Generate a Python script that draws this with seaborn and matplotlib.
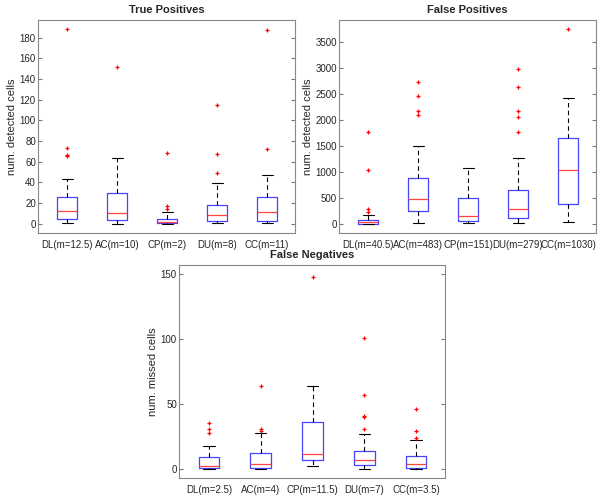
import numpy as np
import matplotlib
matplotlib.use("Agg")
import matplotlib.pyplot as plt
import seaborn as sns

methods = ["DL", "AC", "CP", "DU", "CC"]

# True Positives
tp_labels = ["DL(m=12.5)", "AC(m=10)", "CP(m=2)", "DU(m=8)", "CC(m=11)"]
tp_med = [12.5, 10, 2, 8, 11]
tp_q1 = [5, 4, 1, 3, 3]
tp_q3 = [26, 30, 5, 18, 26]
tp_lo = [1, 0, 0, 1, 1]
tp_hi = [43, 64, 11, 39, 47]
tp_out = [[65, 66, 73, 188], [152], [14, 17, 68], [49, 67, 115], [72, 187]]

# False Positives
fp_labels = ["DL(m=40.5)", "AC(m=483)", "CP(m=151)", "DU(m=279)", "CC(m=1030)"]
fp_med = [40.5, 483, 151, 279, 1030]
fp_q1 = [5, 240, 50, 110, 390]
fp_q3 = [80, 890, 500, 660, 1640]
fp_lo = [0, 20, 10, 20, 40]
fp_hi = [170, 1490, 1080, 1270, 2410]
fp_out = [[230, 280, 1040, 1770], [2100, 2170, 2450, 2730], [],
          [1760, 2060, 2170, 2630, 2980], [3740]]

# False Negatives
fn_labels = ["DL(m=2.5)", "AC(m=4)", "CP(m=11.5)", "DU(m=7)", "CC(m=3.5)"]
fn_med = [2.5, 4, 11.5, 7, 3.5]
fn_q1 = [1, 1, 7, 3, 1]
fn_q3 = [9, 12, 36, 14, 10]
fn_lo = [0, 0, 2, 0, 0]
fn_hi = [18, 28, 64, 27, 22]
fn_out = [[28, 31, 35], [29, 31, 64], [148], [31, 40, 41, 57, 101], [24, 29, 46]]

sns.set_style("white")
plt.rcParams['font.family'] = ['Liberation Sans', 'DejaVu Sans']

fig = plt.figure(figsize=(6.04, 4.99), dpi=100)
W, H = 604, 499

def make_ax(l, t, r, b):
    return fig.add_axes([l / W, 1 - b / H, (r - l) / W, (b - t) / H])

def draw(ax, labels, med, q1, q3, lo, hi, out, ylim, yticks, ylabel, title):
    stats = []
    for i in range(len(labels)):
        stats.append(dict(med=med[i], q1=q1[i], q3=q3[i], whislo=lo[i],
                          whishi=hi[i], fliers=out[i], label=labels[i]))
    ax.bxp(stats, positions=np.arange(1, len(labels) + 1), widths=0.4,
           showfliers=True, capwidths=0.22,
           boxprops=dict(color="#4444ff", linewidth=0.9),
           medianprops=dict(color="#ff4444", linewidth=0.9),
           whiskerprops=dict(color="black", linestyle=(0, (4, 3)), linewidth=0.8),
           capprops=dict(color="black", linewidth=0.8),
           flierprops=dict(marker="+", markeredgecolor="red", markersize=3.5,
                           markeredgewidth=0.9, linestyle="none"))
    ax.set_xlim(0.42, 5.56)
    ax.set_ylim(*ylim)
    ax.set_yticks(yticks)
    ax.set_ylabel(ylabel, fontsize=8, labelpad=2)
    ax.set_title(title, fontsize=8, fontweight="bold", pad=5)
    ax.tick_params(axis="both", labelsize=7, direction="in", length=3,
                   color="#777777", right=True, left=True, bottom=False)
    ax.tick_params(axis="x", pad=5)
    ax.tick_params(axis="y", pad=1.5)
    for s in ax.spines.values():
        s.set_color("#888888")
        s.set_linewidth(0.8)

ax1 = make_ax(38, 20, 295, 233)
draw(ax1, tp_labels, tp_med, tp_q1, tp_q3, tp_lo, tp_hi, tp_out,
     (-9, 197), np.arange(0, 181, 20), "num. detected cells", "True Positives")

ax2 = make_ax(339, 20, 596, 233)
draw(ax2, fp_labels, fp_med, fp_q1, fp_q3, fp_lo, fp_hi, fp_out,
     (-175, 3915), np.arange(0, 3501, 500), "num. detected cells", "False Positives")

ax3 = make_ax(179, 265, 445, 478)
draw(ax3, fn_labels, fn_med, fn_q1, fn_q3, fn_lo, fn_hi, fn_out,
     (-7, 157), np.arange(0, 151, 50), "num. missed cells", "False Negatives")

fig.savefig("out.png", dpi=100)
